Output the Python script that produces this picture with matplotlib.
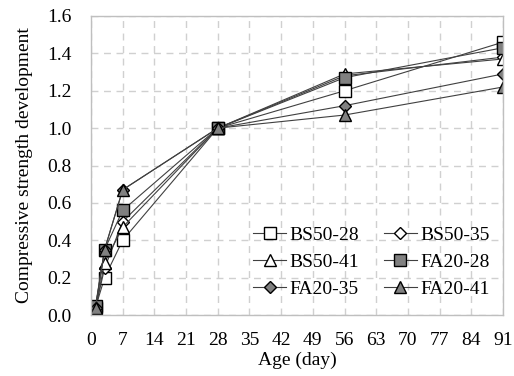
import matplotlib.pyplot as plt

plt.rcParams['font.family'] = ['Liberation Serif', 'DejaVu Serif']

ages = [1, 3, 7, 28, 56, 91]
bs50_28 = [0.04, 0.20, 0.40, 1.0, 1.20, 1.46]
bs50_35 = [0.04, 0.25, 0.50, 1.0, 1.28, 1.38]
bs50_41 = [0.03, 0.28, 0.47, 1.0, 1.29, 1.37]
fa20_28 = [0.05, 0.35, 0.56, 1.0, 1.27, 1.43]
fa20_35 = [0.04, 0.35, 0.67, 1.0, 1.12, 1.29]
fa20_41 = [0.04, 0.35, 0.67, 1.0, 1.07, 1.22]

x_ticks = list(range(0, 92, 7))
y_ticks = [0.0, 0.2, 0.4, 0.6, 0.8, 1.0, 1.2, 1.4, 1.6]

series = [
    ('BS50-28', bs50_28, 's', 'white'),
    ('BS50-35', bs50_35, 'D', 'white'),
    ('BS50-41', bs50_41, '^', 'white'),
    ('FA20-28', fa20_28, 's', '#808080'),
    ('FA20-35', fa20_35, 'D', '#808080'),
    ('FA20-41', fa20_41, '^', '#808080'),
]

fig = plt.figure(figsize=(5.14, 3.76), dpi=100)
ax = fig.add_axes([91 / 514, 1 - 315 / 376, 412 / 514, 299 / 376])

handles = []
for name, vals, mk, fc in series:
    ms = 6.5 if mk == 'D' else 8.5
    h, = ax.plot(ages, vals, color='#404040', lw=0.8, marker=mk, ms=ms,
                 mfc=fc, mec='black', mew=1.0, label=name)
    handles.append(h)

ax.set_xlim(0, 91)
ax.set_ylim(0, 1.6)
ax.set_xticks(x_ticks)
ax.set_yticks(y_ticks)
ax.set_yticklabels(['%.1f' % v for v in y_ticks])
ax.grid(True, color='#d0d0d0', ls=(0, (5, 4)), lw=1.0)
ax.set_axisbelow(True)
for s in ax.spines.values():
    s.set_color('#bfbfbf')
    s.set_linewidth(1.0)
ax.tick_params(axis='y', length=0, labelsize=14, pad=14)
ax.tick_params(axis='x', length=0, labelsize=14, pad=12)

ax.set_xlabel('Age (day)', fontsize=14, labelpad=2)
ax.set_ylabel('Compressive strength development', fontsize=14, labelpad=10)

# legend filled row by row: reorder for matplotlib's column-wise fill
order = [0, 2, 4, 1, 3, 5]
ax.legend([handles[i] for i in order], [series[i][0] for i in order],
          loc='center', ncol=2, frameon=False, fontsize=14,
          handlelength=1.7, handletextpad=0.15, columnspacing=1.3,
          labelspacing=0.5, bbox_to_anchor=(0.68, 0.177))

fig.savefig('out.png', dpi=100)
